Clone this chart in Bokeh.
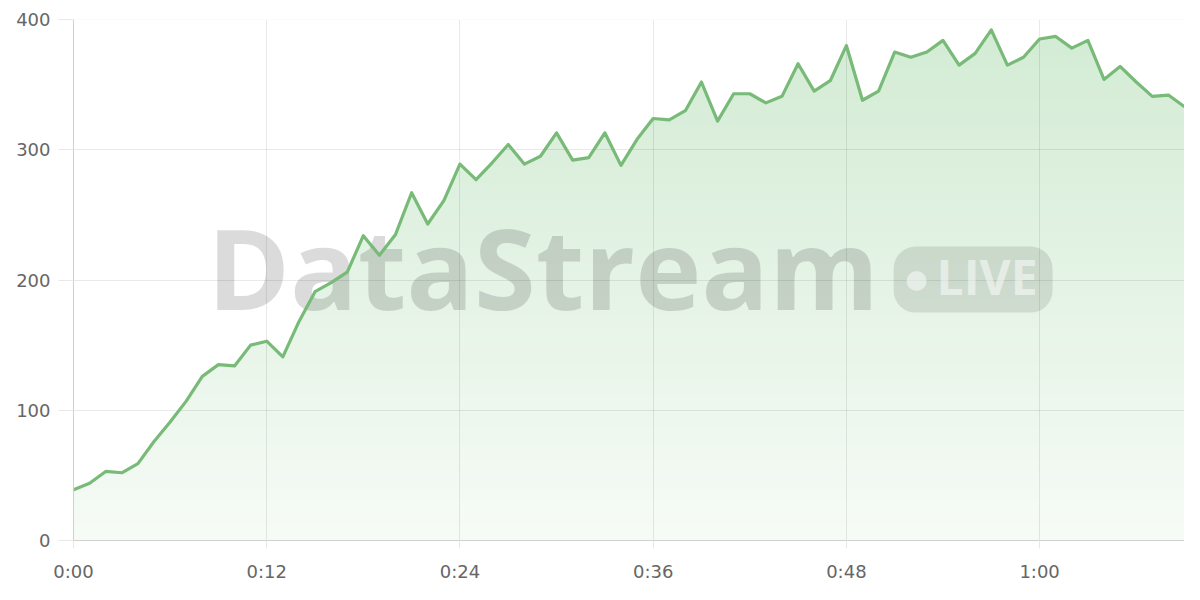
import numpy as np
from bokeh.plotting import figure
from bokeh.models import FixedTicker, Range1d
from bokeh.core.properties import value
from bokeh.embed import file_html
from bokeh.resources import INLINE

# ---- data ----
seconds = list(range(70))
viewers = [39, 44, 53, 52, 59, 76, 91, 107, 126, 135,
           134, 150, 153, 141, 168, 191, 198, 206, 234, 219,
           235, 267, 243, 261, 289, 277, 290, 304, 289, 295,
           313, 292, 294, 313, 288, 308, 324, 323, 330, 352,
           322, 343, 343, 336, 341, 366, 345, 353, 380, 338,
           345, 375, 371, 375, 384, 365, 374, 392, 365, 371,
           385, 387, 378, 384, 354, 364, 352, 341, 342, 333]
x_ticks = [0, 12, 24, 36, 48, 60]
x_tick_labels = ["0:00", "0:12", "0:24", "0:36", "0:48", "1:00"]
y_ticks = [0, 100, 200, 300, 400]

Y_MAX = 400
X_MAX = 69.0

p = figure(width=1184, height=584, output_backend="svg", toolbar_location=None,
           x_range=Range1d(0, X_MAX), y_range=Range1d(0, Y_MAX),
           min_border_left=73, min_border_right=0, min_border_top=19, min_border_bottom=41)
p.outline_line_color = None
p.background_fill_color = "white"
p.border_fill_color = "white"

# ---- gradient area (image + white mask above the line) ----
ny = 256
alphas = np.linspace(0.05, 0.25, ny)
green = np.array([76, 175, 80], dtype=float)
rgba = np.zeros((ny, 2, 4), dtype=np.uint8)
for i, a in enumerate(alphas):
    c = 255 * (1 - a) + green * a
    rgba[i, :, 0:3] = np.round(c).astype(np.uint8)
    rgba[i, :, 3] = 255
img = rgba.view(dtype=np.uint32).reshape((ny, 2))
p.image_rgba(image=[img], x=seconds[0], y=0, dw=seconds[-1] - seconds[0], dh=Y_MAX, level="image")
p.varea(x=seconds, y1=viewers, y2=[Y_MAX + 50] * len(seconds), fill_color="white", level="image")

# ---- axes & grid ----
p.xaxis.ticker = FixedTicker(ticks=x_ticks)
p.xaxis.major_label_overrides = {t: l for t, l in zip(x_ticks, x_tick_labels)}
p.yaxis.ticker = FixedTicker(ticks=y_ticks)
p.xgrid.ticker = FixedTicker(ticks=x_ticks)
p.ygrid.ticker = FixedTicker(ticks=y_ticks)
for g in (p.xgrid, p.ygrid):
    g.grid_line_color = "black"
    g.grid_line_alpha = 0.085
    g.grid_line_width = 1
for ax in (p.xaxis, p.yaxis):
    ax.axis_line_color = "#d0d0d0"
    ax.axis_line_width = 1
    ax.major_tick_line_color = "#e8e8e8"
    ax.major_tick_in = 0
    ax.minor_tick_line_color = None
    ax.major_label_text_font = "DejaVu Sans"
    ax.major_label_text_font_size = "18px"
    ax.major_label_text_color = "#666666"
p.yaxis.major_tick_out = 15
p.yaxis.major_label_standoff = 8
p.xaxis.major_tick_out = 8
p.xaxis.major_label_standoff = 12

# ---- watermark ----
p.text(x=[8.3], y=[210.0], text=["DataStream"], text_font=value("Open Sans"),
       text_font_style="bold", text_font_size="112px", text_color="black", text_alpha=0.14,
       text_align="left", text_baseline="alphabetic")
p.rect(x=[55.87], y=[200.3], width=159, height=66, width_units="screen", height_units="screen",
       border_radius=22, fill_color="black", fill_alpha=0.1, line_color=None)
p.scatter(x=[52.36], y=[199.2], size=20, marker="circle", fill_color="white", fill_alpha=0.5,
          line_color=None)
p.text(x=[53.6], y=[202.5], text=["LIVE"], text_font=value("Open Sans"),
       text_font_style="bold", text_font_size="48px", text_color="white", text_alpha=0.5,
       text_align="left", text_baseline="alphabetic")

# ---- line ----
p.line(x=seconds, y=viewers, line_color="#78ba77", line_width=3.2, line_join="round")

open("out.html", "w").write(file_html(p, INLINE))
